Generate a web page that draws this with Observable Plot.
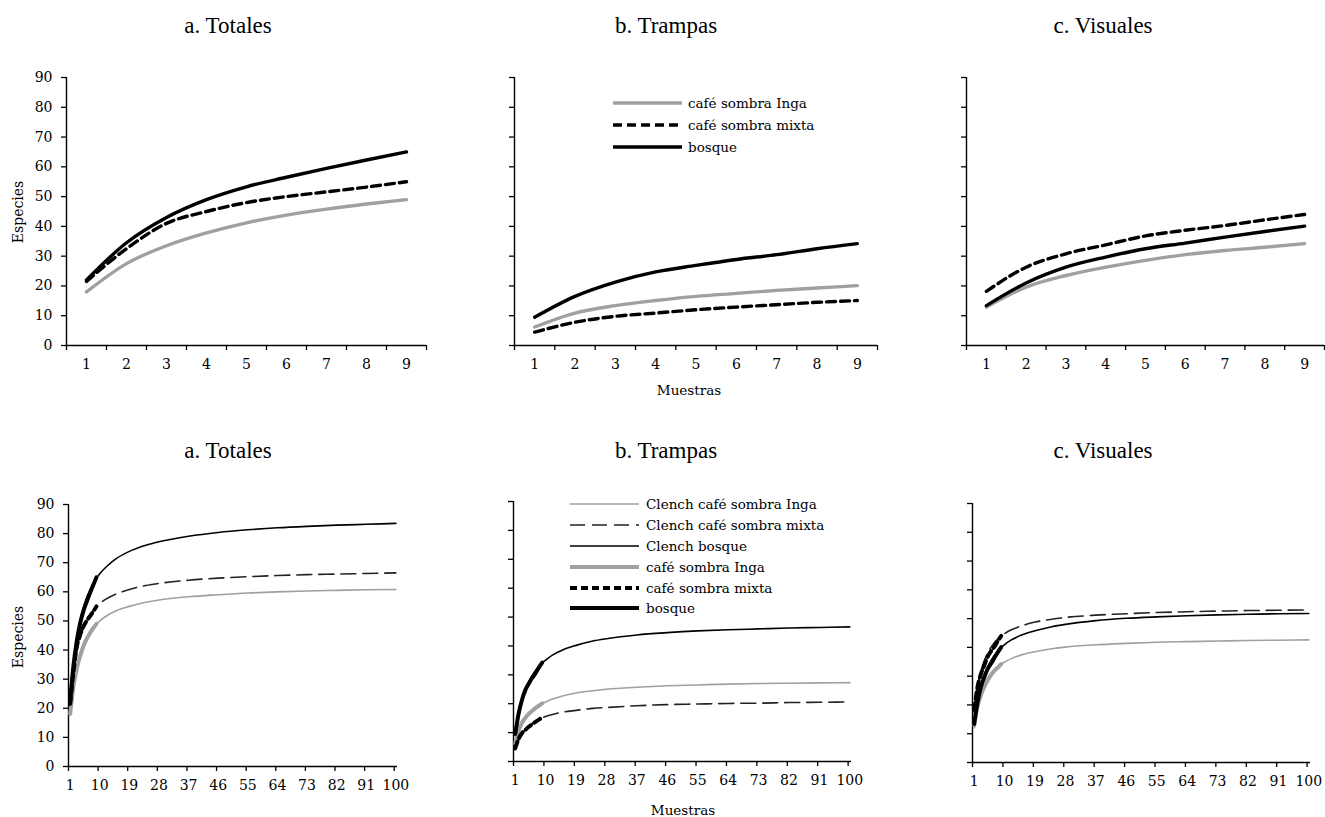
<!DOCTYPE html>
<html><head><meta charset="utf-8">
<script src="https://cdn.jsdelivr.net/npm/d3@7"></script>
<script src="https://cdn.jsdelivr.net/npm/@observablehq/plot@0.6"></script>
<style>
body{margin:0;background:#fff;}
#root{position:relative;width:1325px;height:817px;overflow:hidden;background:#fff;}
#root > svg{position:absolute;}
</style></head><body><div id="root"></div>
<script>
// ---------- DATA ----------
const muestras = [1, 2, 3, 4, 5, 6, 7, 8, 9];
const totInga   = [18, 27.5, 33.5, 37.8, 41.2, 43.8, 45.8, 47.5, 49];
const totMixta  = [21.5, 32.5, 41, 45, 48, 50, 51.6, 53.2, 55];
const totBosque = [22, 34.5, 43, 49, 53.3, 56.5, 59.5, 62.3, 65];
const traInga   = [6.2, 10.9, 13.4, 15.1, 16.5, 17.5, 18.5, 19.3, 20.1];
const traMixta  = [4.5, 7.8, 9.8, 10.9, 12, 12.9, 13.7, 14.5, 15.1];
const traBosque = [9.5, 16.5, 21.3, 24.7, 26.9, 28.9, 30.5, 32.5, 34.2];
const visInga   = [12.9, 19.6, 23.5, 26.3, 28.6, 30.5, 31.9, 33, 34.2];
const visMixta  = [18.2, 26.3, 30.8, 33.8, 36.8, 38.7, 40.3, 42.2, 44];
const visBosque = [13.4, 21, 26.3, 29.7, 32.5, 34.4, 36.4, 38.3, 40.1];

const clenchMuestras = [1, 2, 3, 4, 5, 6, 7, 8, 9, 10, 12, 15, 19, 24, 28, 37, 46, 55, 64, 73, 82, 91, 100];
const clTotInga   = [17.7, 27.6, 33.8, 38.3, 41.5, 44, 46, 47.6, 49, 50, 51.7, 53.5, 55, 56.4, 57.2, 58.3, 59, 59.6, 60, 60.3, 60.5, 60.7, 60.8];
const clTotMixta  = [21.7, 33, 39.8, 44.4, 47.7, 50.2, 52.1, 53.7, 55, 56, 57.6, 59.3, 60.8, 62.2, 62.9, 64, 64.7, 65.2, 65.6, 65.9, 66.1, 66.3, 66.5];
const clTotBosque = [22.3, 35.3, 43.9, 50, 54.5, 58, 60.6, 62.9, 64.7, 66.2, 68.6, 71.4, 73.9, 76, 77.2, 79.1, 80.4, 81.3, 82, 82.5, 82.9, 83.2, 83.5];
const clTraInga   = [6.0, 9.9, 12.6, 14.7, 16.3, 17.5, 18.5, 19.4, 20.1, 20.6, 21.6, 22.7, 23.7, 24.5, 25, 25.7, 26.2, 26.5, 26.8, 27, 27.1, 27.2, 27.3];
const clTraMixta  = [4.5, 7.4, 9.5, 11, 12.2, 13.1, 13.9, 14.6, 15.1, 15.6, 16.3, 17.1, 17.7, 18.4, 18.7, 19.3, 19.7, 19.9, 20.1, 20.2, 20.4, 20.5, 20.6];
const clTraBosque = [10.2, 16.8, 21.5, 25, 27.6, 29.7, 31.5, 33, 34.2, 35.1, 36.8, 38.6, 40.2, 41.7, 42.5, 43.8, 44.6, 45.2, 45.6, 45.9, 46.2, 46.4, 46.6];
const clVisInga   = [12, 18.9, 23.4, 26.5, 28.9, 30.7, 32.1, 33.2, 34.2, 34.9, 36.1, 37.4, 38.5, 39.5, 40.1, 40.9, 41.4, 41.8, 42, 42.2, 42.4, 42.5, 42.6];
const clVisMixta  = [17.3, 26.3, 31.7, 35.4, 38.1, 40.1, 41.7, 43, 44, 44.8, 46.1, 47.5, 48.8, 49.8, 50.4, 51.2, 51.7, 52.1, 52.4, 52.6, 52.8, 52.9, 53];
const clVisBosque = [13, 21, 26.4, 30.2, 33.2, 35.4, 37.3, 38.8, 40, 41, 42.6, 44.3, 45.8, 47.2, 48, 49.3, 50.1, 50.6, 51, 51.3, 51.5, 51.7, 51.8];

const titles = ["a. Totales", "b. Trampas", "c. Visuales"];
const yTicks = [0, 10, 20, 30, 40, 50, 60, 70, 80, 90];
const topLabels = [1, 2, 3, 4, 5, 6, 7, 8, 9];
const bottomLabels = [1, 10, 19, 28, 37, 46, 55, 64, 73, 82, 91, 100];
const legendTop = ["café sombra Inga", "café sombra mixta", "bosque"];
const legendBottom = ["Clench café sombra Inga", "Clench café sombra mixta", "Clench bosque", "café sombra Inga", "café sombra mixta", "bosque"];

// ---------- STYLES ----------
const GRAY = "#a0a0a0";
const stTopInga  = {stroke: GRAY, strokeWidth: 3.4};
const stTopMixta = {stroke: "#000", strokeWidth: 3.4, strokeDasharray: "9,5"};
const stTopBos   = {stroke: "#000", strokeWidth: 3.4};
const stBotInga  = {stroke: GRAY, strokeWidth: 4};
const stBotMixta = {stroke: "#000", strokeWidth: 4, strokeDasharray: "7,4"};
const stBotBos   = {stroke: "#000", strokeWidth: 4};
const stClInga   = {stroke: GRAY, strokeWidth: 1.6};
const stClMixta  = {stroke: "#222", strokeWidth: 1.6, strokeDasharray: "15,7"};
const stClBos    = {stroke: "#000", strokeWidth: 1.6};

const root = document.getElementById("root");
const FONT = "DejaVu Serif";

function rows(xs, ys) { return xs.map((x, i) => ({x, y: ys[i]})); }

function panel({x0, x1, y0, y1, domainX, boundaries, labels, showY, series}) {
  const mL = 60, mR = 12, mT = 10, mB = 40;
  const lines = series.map(s => Plot.line(rows(s.xs, s.ys), {x: "x", y: "y", curve: "monotone-x", strokeLinejoin: "round", ...s.style}));
  const p = Plot.plot({
    width: (x1 - x0) + mL + mR,
    height: (y1 - y0) + mT + mB,
    marginLeft: mL, marginRight: mR, marginTop: mT, marginBottom: mB,
    x: {domain: domainX},
    y: {domain: [0, 90]},
    style: {fontFamily: FONT, fontSize: "14px", color: "#000", background: "transparent", overflow: "visible"},
    marks: [
      Plot.axisY({ticks: yTicks, tickSize: 5, tickPadding: 9, strokeWidth: 1.3, tickFormat: showY ? (d => d) : (() => ""), label: null}),
      Plot.axisX({ticks: boundaries, tickSize: 5, strokeWidth: 1.3, tickFormat: () => "", label: null}),
      Plot.axisX({ticks: labels, tickSize: 0, tickPadding: 14, label: null}),
      Plot.ruleX([domainX[0]], {strokeWidth: 1.4}),
      Plot.ruleY([0], {strokeWidth: 1.4}),
      ...lines
    ]
  });
  p.style.left = (x0 - mL) + "px";
  p.style.top = (y0 - mT) + "px";
  root.appendChild(p);
}

const topB = d3.range(0.5, 9.6, 1);
const botB = d3.range(0, 12).map(k => 0.5 + 9 * k);

const topSeries = [
  [totInga, totMixta, totBosque],
  [traInga, traMixta, traBosque],
  [visInga, visMixta, visBosque]
];
const clSeries = [
  [clTotInga, clTotMixta, clTotBosque],
  [clTraInga, clTraMixta, clTraBosque],
  [clVisInga, clVisMixta, clVisBosque]
];
const topFrames = [
  {x0: 66, x1: 426, y0: 77, y1: 345},
  {x0: 514, x1: 877, y0: 77, y1: 345},
  {x0: 966, x1: 1324, y0: 77, y1: 345}
];
const botFrames = [
  {x0: 68, x1: 397, y0: 504, y1: 766},
  {x0: 513, x1: 851, y0: 501, y1: 761},
  {x0: 972, x1: 1310, y0: 503, y1: 762}
];

topFrames.forEach((f, i) => {
  const [a, b, c] = topSeries[i];
  panel({...f, domainX: [0.5, 9.5], boundaries: topB, labels: topLabels, showY: i === 0,
    series: [
      {xs: muestras, ys: a, style: stTopInga},
      {xs: muestras, ys: b, style: stTopMixta},
      {xs: muestras, ys: c, style: stTopBos}
    ]});
});
botFrames.forEach((f, i) => {
  const [a, b, c] = topSeries[i];
  const [ca, cb, cc] = clSeries[i];
  panel({...f, domainX: [0.5, 100.5], boundaries: botB, labels: bottomLabels, showY: i === 0,
    series: [
      {xs: clenchMuestras, ys: ca, style: stClInga},
      {xs: clenchMuestras, ys: cb, style: stClMixta},
      {xs: clenchMuestras, ys: cc, style: stClBos},
      {xs: muestras, ys: a, style: stBotInga},
      {xs: muestras, ys: b, style: stBotMixta},
      {xs: muestras, ys: c, style: stBotBos}
    ]});
});

// ---------- OVERLAY TEXT & LEGENDS ----------
const ov = d3.select(root).append("svg")
  .attr("width", 1325).attr("height", 817)
  .style("left", "0px").style("top", "0px").style("pointer-events", "none");

const titleX = [228, 666, 1103];
titles.forEach((t, i) => {
  ov.append("text").attr("x", titleX[i]).attr("y", 33).attr("text-anchor", "middle")
    .attr("font-family", "Liberation Serif").attr("font-size", 23).text(t);
  ov.append("text").attr("x", titleX[i]).attr("y", 458).attr("text-anchor", "middle")
    .attr("font-family", "Liberation Serif").attr("font-size", 23).text(t);
});

[[18, 212], [18, 637]].forEach(([x, y]) => {
  ov.append("text").attr("transform", `translate(${x},${y}) rotate(-90)`).attr("text-anchor", "middle")
    .attr("dominant-baseline", "central").attr("font-family", FONT).attr("font-size", 14).text("Especies");
});
[[689, 395], [683, 815]].forEach(([x, y]) => {
  ov.append("text").attr("x", x).attr("y", y).attr("text-anchor", "middle")
    .attr("font-family", FONT).attr("font-size", 13.5).text("Muestras");
});

function legend(names, styles, lx0, lx1, tx, ys) {
  names.forEach((n, i) => {
    const s = styles[i];
    ov.append("line").attr("x1", lx0).attr("x2", lx1).attr("y1", ys[i]).attr("y2", ys[i])
      .attr("stroke", s.stroke).attr("stroke-width", s.strokeWidth)
      .attr("stroke-dasharray", s.strokeDasharray || null);
    ov.append("text").attr("x", tx).attr("y", ys[i] + 4.5).attr("font-family", FONT).attr("font-size", 13.5).text(n);
  });
}
legend(legendTop, [stTopInga, stTopMixta, stTopBos], 613, 682, 688, [103, 125, 147]);
legend(legendBottom, [stClInga, stClMixta, stClBos, stBotInga, stBotMixta, stBotBos], 570, 639, 646, [504, 525, 546, 567, 588, 608]);
</script>
</body></html>
